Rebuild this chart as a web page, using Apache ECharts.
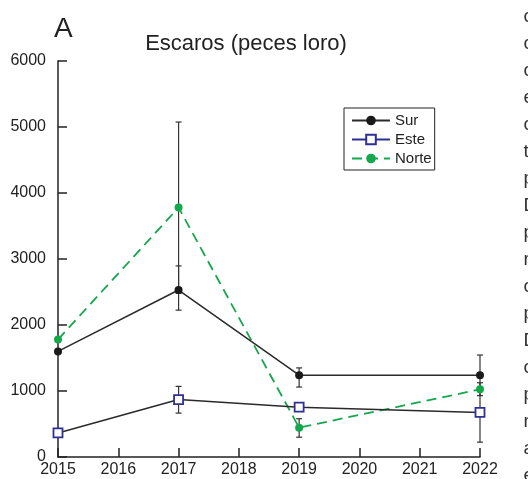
<!DOCTYPE html>
<html>
<head>
<meta charset="utf-8">
<script src="https://cdn.jsdelivr.net/npm/echarts@6/dist/echarts.min.js"></script>
<style>
html,body{margin:0;padding:0;background:#fff;overflow:hidden;}
#chart{width:528px;height:479px;}
</style>
</head>
<body>
<div id="chart"></div>
<script>
// ---- data ----
const years = [2015, 2017, 2019, 2022];
const sur   = [1600, 2530, 1240, 1240];
const este  = [365, 870, 755, 675];
const norte = [1780, 3780, 445, 1025];
// error bars (low / high), null = none
const surLow    = [null, 2225, 1060, 930];
const surHigh   = [null, 2895, 1350, 1545];
const esteLow   = [null, 665, null, 225];
const esteHigh  = [null, 1070, null, 1125];
const norteLow  = [null, 2480, 300, null];
const norteHigh = [null, 5075, 580, null];
const yTicks = [0, 1000, 2000, 3000, 4000, 5000, 6000];
const xTicks = [2015, 2016, 2017, 2018, 2019, 2020, 2021, 2022];
// clipped letters of neighbouring page text
const sideLetters = ['c','c','c','e','c','t','p','D','p','r','c','p','D','c','p','r','a','e'];

const FONT = '"Liberation Sans", Arial, Helvetica, sans-serif';
const DARK = '#222222';
const GREEN = '#14a84c';
const BLUE = '#2e3192';

function pairs(vals) { return years.map((y, i) => [y, vals[i]]); }
function errData(lo, hi) {
  const out = [];
  years.forEach((y, i) => { if (lo[i] != null && hi[i] != null) out.push([y, lo[i], hi[i]]); });
  return out;
}
const errAll = errData(surLow, surHigh).concat(errData(esteLow, esteHigh), errData(norteLow, norteHigh));

function renderErr(params, api) {
  const x = api.value(0);
  const p1 = api.coord([x, api.value(1)]);
  const p2 = api.coord([x, api.value(2)]);
  const cw = 3;
  const st = { stroke: '#333', lineWidth: 1.2 };
  return {
    type: 'group',
    children: [
      { type: 'line', shape: { x1: p1[0], y1: p1[1], x2: p2[0], y2: p2[1] }, style: st },
      { type: 'line', shape: { x1: p1[0] - cw, y1: p1[1], x2: p1[0] + cw, y2: p1[1] }, style: st },
      { type: 'line', shape: { x1: p2[0] - cw, y1: p2[1], x2: p2[0] + cw, y2: p2[1] }, style: st }
    ]
  };
}

const graphics = [
  { type: 'text', left: 54, top: 15, style: { text: 'A', font: '28px ' + FONT, fill: DARK } },
  { type: 'text', x: 246, y: 44, style: { text: 'Escaros (peces loro)', font: '22px ' + FONT, fill: DARK, textAlign: 'center', textVerticalAlign: 'middle' } }
];
sideLetters.forEach((ch, i) => {
  graphics.push({ type: 'text', x: 523.5, y: 17 + i * 27.0, style: { text: ch, font: '19px ' + FONT, fill: '#333', textAlign: 'left', textVerticalAlign: 'middle' } });
});

const chart = echarts.init(document.getElementById('chart'), null, { renderer: 'canvas' });
chart.setOption({
  animation: false,
  backgroundColor: '#fff',
  textStyle: { fontFamily: FONT },
  grid: { left: 58, right: 48, top: 61, bottom: 22, containLabel: false, outerBoundsMode: 'none' },
  graphic: graphics,
  legend: {
    orient: 'vertical',
    left: 344, top: 108,
    padding: [5, 3, 4, 7],
    itemWidth: 38, itemHeight: 12, itemGap: 4,
    borderColor: DARK, borderWidth: 1,
    textStyle: { fontSize: 15, color: DARK, fontFamily: FONT },
    data: [
      { name: 'Sur' },
      { name: 'Este', lineStyle: { color: BLUE } },
      { name: 'Norte' }
    ]
  },
  xAxis: {
    type: 'value', min: xTicks[0], max: xTicks[xTicks.length - 1], interval: 1,
    splitLine: { show: false },
    axisLine: { show: true, onZero: false, lineStyle: { color: DARK, width: 1.5 } },
    axisTick: { show: true, inside: true, length: 9, lineStyle: { color: DARK, width: 1.5 } },
    axisLabel: { fontSize: 16, color: DARK, margin: 5, fontFamily: FONT, formatter: v => String(v) }
  },
  yAxis: {
    type: 'value', min: yTicks[0], max: yTicks[yTicks.length - 1], interval: 1000,
    splitLine: { show: false },
    axisLine: { show: true, onZero: false, lineStyle: { color: DARK, width: 1.5 } },
    axisTick: { show: true, inside: true, length: 9, lineStyle: { color: DARK, width: 1.5 } },
    axisLabel: { fontSize: 16, color: DARK, margin: 12, fontFamily: FONT, formatter: v => String(v) }
  },
  series: [
    {
      name: 'errbars', type: 'custom', renderItem: renderErr, data: errAll,
      encode: { x: 0, y: [1, 2] }, z: 1, silent: true, clip: false
    },
    {
      name: 'Norte', type: 'line', data: pairs(norte), clip: false, z: 2,
      symbol: 'circle', symbolSize: 8,
      lineStyle: { color: GREEN, width: 1.8, type: [10, 6] },
      itemStyle: { color: GREEN, borderColor: GREEN, borderWidth: 0 }
    },
    {
      name: 'Sur', type: 'line', data: pairs(sur), clip: false, z: 3,
      symbol: 'circle', symbolSize: 8,
      lineStyle: { color: '#2a2a2a', width: 1.5 },
      itemStyle: { color: '#1a1a1a', borderColor: '#1a1a1a', borderWidth: 0 }
    },
    {
      name: 'Este', type: 'line', data: pairs(este), clip: false, z: 3,
      symbol: 'rect', symbolSize: 9,
      lineStyle: { color: '#2a2a2a', width: 1.5 },
      itemStyle: { color: '#ffffff', borderColor: BLUE, borderWidth: 1.8 }
    }
  ]
});
</script>
</body>
</html>
